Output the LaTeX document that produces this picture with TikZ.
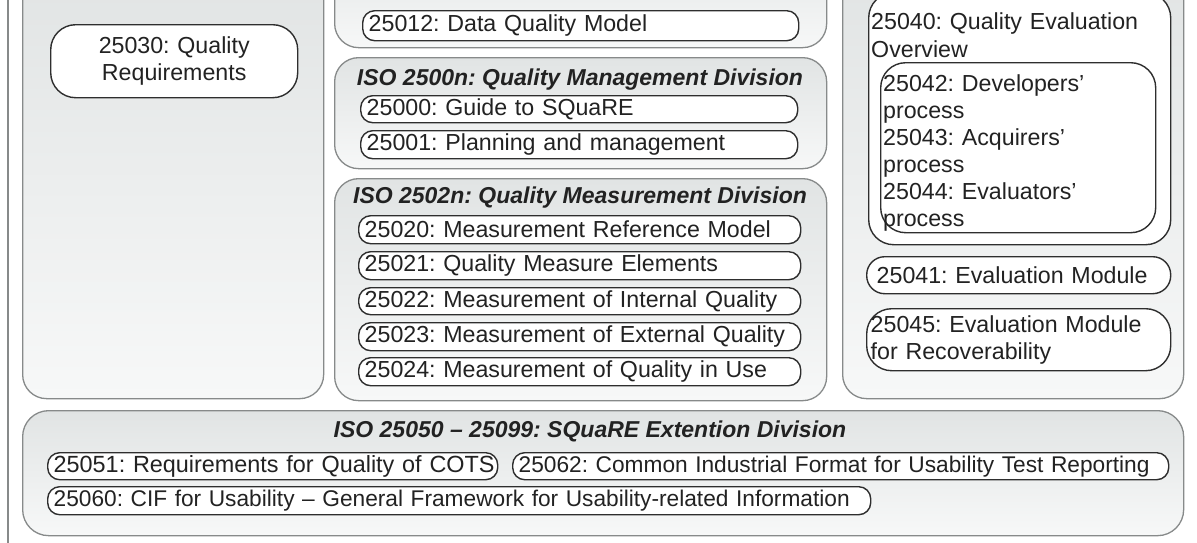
\documentclass[tikz,border=0pt]{standalone}
\usepackage{fontspec}
\setmainfont{Liberation Sans}
\frenchspacing
\definecolor{boxgray}{HTML}{878A8A}
\definecolor{pilldark}{HTML}{2E2E2E}
\definecolor{boxtop}{HTML}{E1E4E4}
\definecolor{boxbot}{HTML}{F7F8F8}
\definecolor{txt}{HTML}{222222}
\newcommand\myfs{\fontsize{23.2}{27}\selectfont}
\newcommand\smfs{\fontsize{22.7}{27}\selectfont}
\begin{document}
\begin{tikzpicture}[x=1pt,y=-1pt,
  divbox/.style={draw=boxgray, line width=1.3pt, rounded corners=24, top color=boxtop, bottom color=boxbot, anchor=north west, inner sep=0pt},
  pill/.style={draw=pilldark, line width=1.4pt, fill=white, rounded corners=12, anchor=north west, inner xsep=6pt, inner ysep=0pt, align=left, font=\myfs, text=txt},
  bigpill/.style={pill, rounded corners=25},
  plain/.style={anchor=north west, inner sep=0pt, align=left, font=\myfs, text=txt},
  divtitle/.style={inner sep=0pt, font=\fontsize{23}{27}\selectfont\bfseries\itshape, text=txt}]
\useasboundingbox (0,0) rectangle (1197,542);
\clip (0,0) rectangle (1197,542);
\fill[white] (0,0) rectangle (1197,542);
% outer frame line
\coordinate (ftop) at (8,-5);
\coordinate (fbot) at (8,547);
\draw[boxgray, line width=1.3pt] (ftop) -- (fbot);
% left column
\node[divbox, minimum width=301pt, minimum height=428pt] (leftcol) at (22,-30) {};
\node[bigpill, align=center, text width=235pt, minimum height=73pt] (q30) at (50,24) {25030: Quality\\Requirements};
% middle column
\node[divbox, minimum width=492pt, minimum height=107pt] (topdiv) at (334,-60) {};
\node[pill, text width=424pt, minimum height=30pt] (q12) at (362,10) {25012: Data Quality Model};
\node[divbox, minimum width=492pt, minimum height=111pt] (mgmt) at (334,57) {};
\node[divtitle] (mgmtt) at (580,80) {ISO 2500n: Quality Management Division};
\node[pill, text width=425pt, minimum height=27pt] (q00) at (360,95) {25000: Guide to SQuaRE};
\node[pill, text width=425pt, minimum height=28pt] (q01) at (360,130) {25001: Planning and management};
\node[divbox, minimum width=492pt, minimum height=222pt] (meas) at (334,178) {};
\node[divtitle] (meast) at (580,198) {ISO 2502n: Quality Measurement Division};
\node[pill, text width=430pt, minimum height=28pt] (q20) at (358,215) {25020: Measurement Reference Model};
\node[pill, text width=430pt, minimum height=28pt] (q21) at (358,251) {25021: Quality Measure Elements};
\node[pill, text width=430pt, minimum height=27pt] (q22) at (358,287) {25022: Measurement of Internal Quality};
\node[pill, text width=430pt, minimum height=28pt] (q23) at (358,322) {25023: Measurement of External Quality};
\node[pill, text width=430pt, minimum height=28pt] (q24) at (358,357) {25024: Measurement of Quality in Use};
% right column
\node[divbox, minimum width=341pt, minimum height=428pt] (rightcol) at (842,-30) {};
\node[bigpill, minimum width=302pt, minimum height=252pt] (q40) at (868,-8) {};
\node[plain, text width=290pt, font=\fontsize{23.2}{28}\selectfont] (q40t) at (871,12) {25040: Quality Evaluation\\Overview};
\node[bigpill, minimum width=275pt, minimum height=170pt] (q4x) at (880,62) {};
\node[plain, text width=265pt] (q4xt) at (883,74) {25042: Developers'\\process\\25043: Acquirers'\\process\\25044: Evaluators'\\process};
\node[pill, rounded corners=18, inner xsep=10pt, text width=284pt, minimum height=37pt] (q41) at (866,256) {25041: Evaluation Module};
\node[bigpill, inner xsep=4pt, text width=296pt, minimum height=62pt] (q45) at (866,308) {25045: Evaluation Module\\for Recoverability};
% bottom division
\node[divbox, rounded corners=26, minimum width=1161pt, minimum height=125pt] (ext) at (22,410) {};
\node[divtitle] (extt) at (590,431) {ISO 25050 -- 25099: SQuaRE Extention Division};
\node[pill, text width=438pt, minimum height=27pt, font=\fontsize{23.4}{27}\selectfont] (q51) at (47,452) {\mbox{25051: Requirements for Quality of COTS}};
\node[pill, text width=644pt, minimum height=27pt, font=\smfs] (q62) at (512,452) {\mbox{25062: Common Industrial Format for Usability Test Reporting}};
\node[pill, text width=811pt, minimum height=28pt, font=\smfs] (q60) at (47,486) {\mbox{25060: CIF for Usability -- General Framework for Usability-related Information}};
\end{tikzpicture}
\end{document}
